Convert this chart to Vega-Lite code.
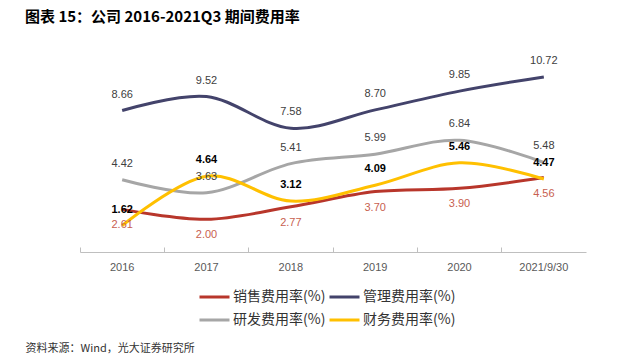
{
  "$schema": "https://vega.github.io/schema/vega-lite/v6.json",
  "width": 506,
  "height": 196,
  "autosize": {"type": "none"},
  "padding": {"left": 80, "top": 56, "right": 54, "bottom": 108},
  "background": "white",
  "config": {"view": {"stroke": null}, "font": "Liberation Sans"},
  "title": {
    "text": "图表 15：公司 2016-2021Q3 期间费用率",
    "anchor": "start",
    "frame": "group",
    "dx": -55,
    "offset": 30,
    "font": "Noto Sans CJK SC",
    "fontSize": 15,
    "fontWeight": "bold",
    "color": "#000000"
  },
  "data": {
    "values": [
      {"year": "2016", "series": "销售费用率(%)", "value": 2.61},
      {"year": "2017", "series": "销售费用率(%)", "value": 2.00},
      {"year": "2018", "series": "销售费用率(%)", "value": 2.77},
      {"year": "2019", "series": "销售费用率(%)", "value": 3.70},
      {"year": "2020", "series": "销售费用率(%)", "value": 3.90},
      {"year": "2021/9/30", "series": "销售费用率(%)", "value": 4.56},
      {"year": "2016", "series": "管理费用率(%)", "value": 8.66},
      {"year": "2017", "series": "管理费用率(%)", "value": 9.52},
      {"year": "2018", "series": "管理费用率(%)", "value": 7.58},
      {"year": "2019", "series": "管理费用率(%)", "value": 8.70},
      {"year": "2020", "series": "管理费用率(%)", "value": 9.85},
      {"year": "2021/9/30", "series": "管理费用率(%)", "value": 10.72},
      {"year": "2016", "series": "研发费用率(%)", "value": 4.42},
      {"year": "2017", "series": "研发费用率(%)", "value": 3.63},
      {"year": "2018", "series": "研发费用率(%)", "value": 5.41},
      {"year": "2019", "series": "研发费用率(%)", "value": 5.99},
      {"year": "2020", "series": "研发费用率(%)", "value": 6.84},
      {"year": "2021/9/30", "series": "研发费用率(%)", "value": 5.48},
      {"year": "2016", "series": "财务费用率(%)", "value": 1.62},
      {"year": "2017", "series": "财务费用率(%)", "value": 4.64},
      {"year": "2018", "series": "财务费用率(%)", "value": 3.12},
      {"year": "2019", "series": "财务费用率(%)", "value": 4.09},
      {"year": "2020", "series": "财务费用率(%)", "value": 5.46},
      {"year": "2021/9/30", "series": "财务费用率(%)", "value": 4.47}
    ]
  },
  "resolve": {"axis": {"x": "independent"}},
  "layer": [
    {
      "mark": {"type": "line", "interpolate": "cardinal", "tension": 0, "strokeWidth": 3},
      "encoding": {
        "x": {
          "field": "year", "type": "ordinal", "sort": null,
          "scale": {"type": "band", "paddingInner": 0, "paddingOuter": 0},
          "axis": {
            "orient": "bottom", "title": null, "labelAngle": 0,
            "bandPosition": 0, "labelFontSize": 11, "labelColor": "#595959",
            "domainColor": "#BFBFBF", "tickColor": "#BFBFBF", "tickSize": -5,
            "labelPadding": 14
          }
        },
        "y": {
          "field": "value", "type": "quantitative",
          "scale": {"domain": [0, 12]},
          "axis": {
            "title": null, "grid": false, "values": [0, 2, 4, 6, 8, 10, 12],
            "labelFontSize": 11, "labelColor": "#595959",
            "domainColor": "#BFBFBF", "tickColor": "#BFBFBF", "tickSize": -4,
            "labelPadding": 13
          }
        },
        "color": {
          "field": "series", "type": "nominal",
          "scale": {
            "domain": ["销售费用率(%)", "管理费用率(%)", "研发费用率(%)", "财务费用率(%)"],
            "range": ["#B8362B", "#43436B", "#A6A6A6", "#FFC000"]
          },
          "legend": {
            "orient": "none", "legendX": 118, "legendY": 233,
            "direction": "horizontal", "columns": 2, "title": null,
            "symbolType": "stroke", "symbolSize": 900, "symbolStrokeWidth": 3,
            "labelFont": "Noto Sans CJK SC", "labelFontSize": 14, "labelColor": "#333333",
            "labelOffset": 2, "columnPadding": 2, "rowPadding": 7, "clipHeight": 16,
            "labelLimit": 200
          }
        }
      }
    },
    {
      "transform": [{"filter": "datum.series === '管理费用率(%)' || datum.series === '研发费用率(%)'"}],
      "mark": {"type": "text", "dy": -16, "fontSize": 11, "color": "#404040"},
      "encoding": {
        "x": {"field": "year", "type": "ordinal", "sort": null, "axis": null},
        "y": {"field": "value", "type": "quantitative", "axis": null},
        "text": {"field": "value", "type": "quantitative", "format": ".2f"}
      }
    },
    {
      "transform": [{"filter": "datum.series === '财务费用率(%)'"}],
      "mark": {"type": "text", "dy": -16, "fontSize": 11, "fontWeight": "bold", "color": "#000000"},
      "encoding": {
        "x": {"field": "year", "type": "ordinal", "sort": null, "axis": null},
        "y": {"field": "value", "type": "quantitative", "axis": null},
        "text": {"field": "value", "type": "quantitative", "format": ".2f"}
      }
    },
    {
      "transform": [{"filter": "datum.series === '销售费用率(%)'"}],
      "mark": {"type": "text", "dy": 16, "fontSize": 11, "color": "#C8604F"},
      "encoding": {
        "x": {
          "field": "year", "type": "ordinal", "sort": null,
          "axis": {"orient": "bottom", "offset": 89, "domain": false, "labels": false, "ticks": false,
                   "title": "资料来源：Wind，光大证券研究所",
                   "titleX": -55, "titleY": 10, "titleAlign": "left", "titleBaseline": "alphabetic",
                   "titleFont": "Noto Sans CJK SC", "titleFontSize": 11, "titleFontWeight": "normal",
                   "titleColor": "#333333"}
        },
        "y": {"field": "value", "type": "quantitative", "axis": null},
        "text": {"field": "value", "type": "quantitative", "format": ".2f"}
      }
    }
  ]
}
